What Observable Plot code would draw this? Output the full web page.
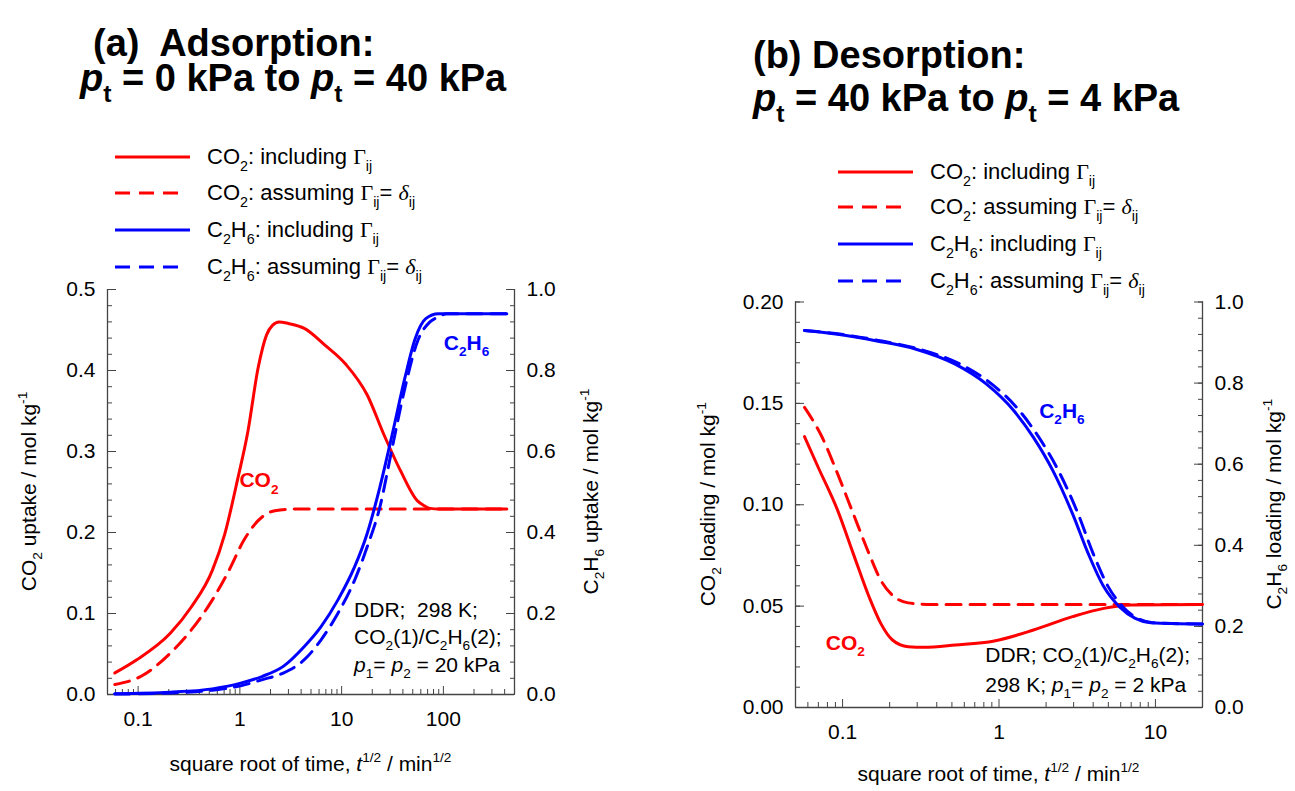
<!DOCTYPE html>
<html>
<head>
<meta charset="utf-8">
<script src="https://cdn.jsdelivr.net/npm/d3@7"></script>
<script src="https://cdn.jsdelivr.net/npm/@observablehq/plot@0.6"></script>
<style>
  html, body { margin: 0; padding: 0; background: #fff; }
  #fig { position: relative; width: 1295px; height: 791px; overflow: hidden; background: #fff;
         font-family: "Liberation Sans", Arial, sans-serif; }
  #fig svg { position: absolute; top: 0; overflow: visible; }
</style>
</head>
<body>
<div id="fig"></div>
<script>
// ---------- (a) Adsorption, pt = 0 -> 40 kPa; x = t^1/2 (min^1/2) ----------
const adsCO2IncT  = [0.059, 0.097, 0.207, 0.333, 0.535, 0.71, 0.944, 1.2, 1.51, 1.83, 2.1, 2.43, 3.0, 4.3, 6.9, 11.1, 17.8, 26, 38, 55.6, 65, 74, 90, 420];
const adsCO2IncQ  = [0.0266, 0.0429, 0.0756, 0.108, 0.153, 0.198, 0.264, 0.325, 0.403, 0.444, 0.456, 0.46, 0.458, 0.452, 0.431, 0.407, 0.37, 0.321, 0.276, 0.239, 0.233, 0.2298, 0.229, 0.229];
const adsCO2IdT   = [0.059, 0.107, 0.207, 0.333, 0.535, 0.78, 1.09, 1.51, 2.21, 3.56, 420];
const adsCO2IdQ   = [0.0123, 0.0225, 0.051, 0.0797, 0.1165, 0.153, 0.19, 0.2146, 0.2269, 0.229, 0.229];
const adsC2H6IncT = [0.059, 0.207, 0.535, 1.04, 1.67, 2.67, 4.3, 6.28, 9.17, 13.4, 17.8, 23.7, 31.4, 41.8, 52.9, 67.1, 89, 420];
const adsC2H6IncQ = [0.002, 0.0057, 0.0139, 0.0286, 0.045, 0.0695, 0.1186, 0.1676, 0.233, 0.315, 0.397, 0.511, 0.642, 0.781, 0.879, 0.928, 0.94, 0.94];
const adsC2H6IdT  = [0.059, 0.207, 0.535, 1.04, 1.67, 2.67, 4.3, 6.28, 9.17, 13.4, 17.8, 23.7, 31.4, 41.8, 55.5, 73.8, 89, 108, 420];
const adsC2H6IdQ  = [0.001, 0.004, 0.0106, 0.022, 0.0368, 0.053, 0.0859, 0.135, 0.2, 0.282, 0.364, 0.462, 0.609, 0.756, 0.871, 0.92, 0.932, 0.94, 0.94];

// ---------- (b) Desorption, pt = 40 -> 4 kPa ----------
const desCO2IncT  = [0.0571, 0.0698, 0.093, 0.117, 0.1476, 0.1754, 0.2083, 0.2627, 0.331, 0.525, 0.933, 1.66, 2.95, 4.68, 7.01, 20];
const desCO2IncQ  = [0.1336, 0.1185, 0.0972, 0.0759, 0.0546, 0.0415, 0.0333, 0.030, 0.0297, 0.0308, 0.0328, 0.0382, 0.0448, 0.0489, 0.0505, 0.0508];
const desCO2IdT   = [0.0571, 0.074, 0.093, 0.117, 0.1476, 0.1754, 0.2083, 0.2627, 0.372, 20];
const desCO2IdQ   = [0.148, 0.1333, 0.1152, 0.0956, 0.0759, 0.0628, 0.0554, 0.0516, 0.0508, 0.0508];
const desC2H6IncT = [0.0571, 0.093, 0.1656, 0.295, 0.525, 0.832, 1.245, 1.66, 2.21, 2.95, 3.72, 4.68, 5.9, 7.43, 9.35, 20];
const desC2H6IncQ = [0.93, 0.9205, 0.904, 0.8836, 0.8467, 0.7975, 0.732, 0.666, 0.584, 0.478, 0.3795, 0.2975, 0.248, 0.2197, 0.209, 0.2057];
const desC2H6IdT  = [0.0571, 0.093, 0.1656, 0.31, 0.565, 0.90, 1.35, 1.8, 2.4, 3.2, 4.0, 5.0, 6.2, 7.7, 9.6, 20];
const desC2H6IdQ  = [0.93, 0.9215, 0.906, 0.8836, 0.8467, 0.7975, 0.732, 0.666, 0.584, 0.478, 0.3795, 0.2975, 0.248, 0.2197, 0.209, 0.2057];

// ---------- ticks ----------
const adsXTicks  = [0.1, 1, 10, 100];
const adsXMinor  = [0.06, 0.07, 0.08, 0.09, 0.2, 0.3, 0.4, 0.5, 0.6, 0.7, 0.8, 0.9, 2, 3, 4, 5, 6, 7, 8, 9, 20, 30, 40, 50, 60, 70, 80, 90, 200, 300, 400];
const adsYTicks  = [0, 0.1, 0.2, 0.3, 0.4, 0.5];
const adsRTicks  = [0, 0.2, 0.4, 0.6, 0.8, 1.0];
const desXTicks  = [0.1, 1, 10];
const desXMinor  = [0.06, 0.07, 0.08, 0.09, 0.2, 0.3, 0.4, 0.5, 0.6, 0.7, 0.8, 0.9, 2, 3, 4, 5, 6, 7, 8, 9];
const desYTicks  = [0, 0.05, 0.10, 0.15, 0.20];
const desRTicks  = [0, 0.2, 0.4, 0.6, 0.8, 1.0];

const RED = "#ff0000", BLUE = "#0000ff", AXIS = "#444";
const FONT = "'Liberation Sans', Arial, sans-serif";
const SERIF = "'Liberation Serif', 'Times New Roman', serif";

const zip = (T, Q) => T.map((t, i) => ({t, q: Q[i]}));
const range = (a, b, s) => d3.range(Math.round((b - a) / s) + 1).map(i => +(a + i * s).toFixed(6));

// Text with _{sub}, ^{sup}, *italic* and §serif§ runs.
function rich(g, x, y, src, o = {}) {
  const size = o.size || 21;
  const t = g.append("text")
    .attr("x", x).attr("y", y)
    .attr("font-size", size)
    .attr("font-family", FONT)
    .attr("font-weight", o.weight || "normal")
    .attr("fill", o.fill || "#000")
    .attr("text-anchor", o.anchor || "start")
    .style("white-space", "pre");
  if (o.rotate) t.attr("transform", `rotate(${o.rotate},${x},${y})`);
  const segs = [];
  let buf = "", it = false, serif = false, i = 0;
  const flush = () => { if (buf) segs.push({txt: buf, shift: 0, it, serif}); buf = ""; };
  while (i < src.length) {
    const c = src[i];
    if ((c === "_" || c === "^") && src[i + 1] === "{") {
      flush();
      const j = src.indexOf("}", i);
      segs.push({txt: src.slice(i + 2, j), shift: c === "_" ? 1 : -1, it, serif});
      i = j + 1; continue;
    }
    if (c === "*") { flush(); it = !it; i++; continue; }
    if (c === "§") { flush(); serif = !serif; i++; continue; }
    buf += c; i++;
  }
  flush();
  let cur = 0;
  for (const s of segs) {
    const sh = s.shift === 1 ? 0.3 * size : s.shift === -1 ? -0.42 * size : 0;
    const ts = t.append("tspan").text(s.txt).attr("dy", sh - cur);
    cur = sh;
    if (s.shift) ts.attr("font-size", size * 0.65);
    if (s.it) ts.attr("font-style", "italic");
    if (s.serif) ts.attr("font-family", SERIF);
  }
  return t;
}

function panel(cfg) {
  const k = cfg.k; // right-axis units -> left-axis units
  const series = [
    {rows: cfg.co2Inc,  stroke: RED,  dash: null,   scale: 1},
    {rows: cfg.co2Id,   stroke: RED,  dash: "15,9", scale: 1},
    {rows: cfg.c2h6Inc, stroke: BLUE, dash: null,   scale: k},
    {rows: cfg.c2h6Id,  stroke: BLUE, dash: "15,9", scale: k}
  ];
  const marks = [
    Plot.ruleY([0], {stroke: AXIS, strokeWidth: 1.3}),
    Plot.ruleX(cfg.xDomain, {stroke: AXIS, strokeWidth: 1.3}),
    Plot.axisX(cfg.xTicks, {anchor: "bottom", tickSize: -8, tickPadding: 24.5, stroke: AXIS, fill: "#000",
      fontSize: 21, tickFormat: d3.format("~g"), label: null}),
    Plot.axisX(cfg.xMinor, {anchor: "bottom", tickSize: -5, stroke: AXIS, tickFormat: () => "", label: null}),
    Plot.axisY(cfg.yTicks, {anchor: "left", tickSize: -9, tickPadding: 21, stroke: AXIS, fill: "#000",
      fontSize: 21, tickFormat: d3.format(cfg.yFmt), label: null}),
    Plot.axisY(cfg.yMinor, {anchor: "left", tickSize: -5, stroke: AXIS, tickFormat: () => "", label: null}),
    Plot.axisY(cfg.rTicks.map(v => v * k), {anchor: "right", tickSize: -9, tickPadding: 21, stroke: AXIS, fill: "#000",
      fontSize: 21, tickFormat: v => (v / k).toFixed(1), label: null}),
    Plot.axisY(cfg.rMinor.map(v => v * k), {anchor: "right", tickSize: -5, stroke: AXIS, tickFormat: () => "", label: null}),
    ...series.map(s => Plot.line(s.rows, {
      x: "t", y: d => d.q * s.scale, stroke: s.stroke, strokeWidth: 3,
      strokeDasharray: s.dash, curve: "monotone-x"
    }))
  ];
  const svg = Plot.plot({
    width: cfg.width, height: 791,
    marginLeft: cfg.mL, marginRight: cfg.mR, marginTop: cfg.mT, marginBottom: cfg.mB,
    x: {type: "log", domain: cfg.xDomain, axis: null},
    y: {domain: [0, cfg.yMax], axis: null},
    style: {fontFamily: FONT, fontSize: "21px", background: "transparent", overflow: "visible"},
    marks
  });
  svg.style.left = cfg.left + "px";
  document.getElementById("fig").appendChild(svg);

  const g = d3.select(svg).append("g");
  const sx = svg.scale("x"), sy = svg.scale("y");
  const x0 = cfg.mL, x1 = cfg.width - cfg.mR, yTop = cfg.mT, yBot = 791 - cfg.mB;

  // title
  rich(g, cfg.t1x, cfg.t1y, cfg.title1, {size: 38, weight: "bold"});
  rich(g, cfg.t2x, cfg.t2y, cfg.title2, {size: 38, weight: "bold"});

  // legend
  const leg = [
    {stroke: RED,  dash: null,   label: "CO_{2}: including §Γ§_{ij}"},
    {stroke: RED,  dash: "15,9", label: "CO_{2}: assuming §Γ§_{ij}= §*δ*§_{ij}"},
    {stroke: BLUE, dash: null,   label: "C_{2}H_{6}: including §Γ§_{ij}"},
    {stroke: BLUE, dash: "15,9", label: "C_{2}H_{6}: assuming §Γ§_{ij}= §*δ*§_{ij}"}
  ];
  leg.forEach((d, i) => {
    const y = cfg.legY[i];
    g.append("line").attr("x1", cfg.legX).attr("x2", cfg.legX + (d.dash ? 68 : 75))
      .attr("y1", y).attr("y2", y).attr("stroke", d.stroke).attr("stroke-width", 3)
      .attr("stroke-dasharray", d.dash);
    rich(g, cfg.legX + 92, y + 7, d.label, {size: 22});
  });

  // axis titles
  rich(g, (x0 + x1) / 2, cfg.xLabY, "square root of time, *t*^{1/2} / min^{1/2}", {anchor: "middle"});
  rich(g, cfg.yLabX, (yTop + yBot) / 2, cfg.yLab, {anchor: "middle", rotate: -90});
  rich(g, cfg.rLabX, (yTop + yBot) / 2, cfg.rLab, {anchor: "middle", rotate: -90});

  // curve labels
  rich(g, sx.apply(cfg.co2Lab[0]), sy.apply(cfg.co2Lab[1]), "CO_{2}", {weight: "bold", fill: RED});
  rich(g, sx.apply(cfg.c2h6Lab[0]), sy.apply(cfg.c2h6Lab[1] * k), "C_{2}H_{6}", {weight: "bold", fill: BLUE});

  // conditions
  cfg.info.forEach((s, i) => rich(g, sx.apply(cfg.infoX), cfg.infoY[i], s));
}

panel({
  left: 0, width: 650, mL: 107, mR: 136, mT: 289, mB: 97,
  xDomain: [0.05, 500], yMax: 0.5, k: 0.5,
  xTicks: adsXTicks, xMinor: adsXMinor,
  yTicks: adsYTicks, yMinor: range(0, 0.5, 0.02), yFmt: ".1f",
  rTicks: adsRTicks, rMinor: range(0, 1, 0.04),
  co2Inc: zip(adsCO2IncT, adsCO2IncQ), co2Id: zip(adsCO2IdT, adsCO2IdQ),
  c2h6Inc: zip(adsC2H6IncT, adsC2H6IncQ), c2h6Id: zip(adsC2H6IdT, adsC2H6IdQ),
  title1: "(a)  Adsorption:", t1x: 93, t1y: 56,
  title2: "*p*_{t} = 0 kPa to *p*_{t} = 40 kPa", t2x: 80, t2y: 91,
  legX: 115, legY: [157, 193, 230, 267],
  xLabY: 771, yLabX: 36, rLabX: 598,
  yLab: "CO_{2} uptake / mol kg^{-1}", rLab: "C_{2}H_{6} uptake / mol kg^{-1}",
  co2Lab: [1.0, 0.255], c2h6Lab: [102, 0.85],
  infoX: 13.4, infoY: [617, 644, 672],
  info: ["DDR;  298 K;", "CO_{2}(1)/C_{2}H_{6}(2);", "*p*_{1}= *p*_{2} = 20 kPa"]
});

panel({
  left: 650, width: 645, mL: 145, mR: 93, mT: 301.5, mB: 84,
  xDomain: [0.05, 20], yMax: 0.2, k: 0.2,
  xTicks: desXTicks, xMinor: desXMinor,
  yTicks: desYTicks, yMinor: range(0, 0.2, 0.01), yFmt: ".2f",
  rTicks: desRTicks, rMinor: range(0, 1, 0.04),
  co2Inc: zip(desCO2IncT, desCO2IncQ), co2Id: zip(desCO2IdT, desCO2IdQ),
  c2h6Inc: zip(desC2H6IncT, desC2H6IncQ), c2h6Id: zip(desC2H6IdT, desC2H6IdQ),
  title1: "(b) Desorption:", t1x: 103, t1y: 68,
  title2: "*p*_{t} = 40 kPa to *p*_{t} = 4 kPa", t2x: 103, t2y: 111,
  legX: 188, legY: [172, 207, 244, 281],
  xLabY: 781, yLabX: 65, rLabX: 631,
  yLab: "CO_{2} loading / mol kg^{-1}", rLab: "C_{2}H_{6} loading / mol kg^{-1}",
  co2Lab: [0.0787, 0.0281], c2h6Lab: [1.82, 0.713],
  infoX: 0.823, infoY: [662, 692],
  info: ["DDR; CO_{2}(1)/C_{2}H_{6}(2);", "298 K; *p*_{1}= *p*_{2} = 2 kPa"]
});
</script>
</body>
</html>
